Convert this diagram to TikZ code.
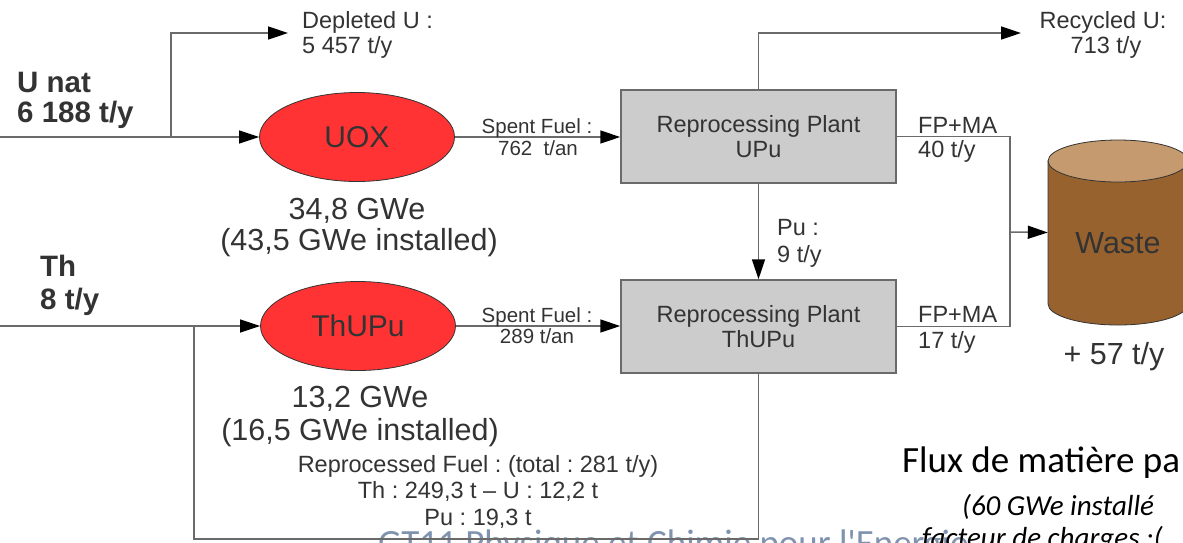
\documentclass[tikz,border=0pt]{standalone}
\usepackage{fontspec}
\setmainfont{Liberation Sans}
\newfontfamily\calibrifont{Carlito}
\usetikzlibrary{arrows.meta,shapes.geometric}
\frenchspacing
\definecolor{ink}{HTML}{333333}
\definecolor{wire}{HTML}{6A6A6A}
\definecolor{reactor}{HTML}{FF3333}
\definecolor{plantgray}{HTML}{CCCCCC}
\definecolor{wastetop}{HTML}{C49A6E}
\definecolor{wastebody}{HTML}{98622F}
\definecolor{footer}{HTML}{8093AE}
\tikzset{
  pipe/.style={draw=wire, line width=1.5pt},
  flow/.style={pipe, -{Triangle[length=20pt,width=13pt,color=black]}},
  reactornode/.style={ellipse, draw=ink, line width=0.8pt, fill=reactor,
    minimum width=195, minimum height=89, inner sep=0, text=ink,
    font=\fontsize{30}{35}\selectfont},
  plantnode/.style={rectangle, draw=wire, line width=1.5pt, fill=plantgray,
    minimum width=275, minimum height=93, inner sep=0, align=center, text=ink,
    font=\fontsize{23.5}{25.5}\selectfont},
  lbl/.style={inner sep=0, text=ink, anchor=base},
  lblw/.style={lbl, anchor=base west},
  big/.style={font=\fontsize{30.5}{35}\selectfont},
  mid/.style={font=\fontsize{23.5}{27}\selectfont},
  small/.style={font=\fontsize{20.5}{24}\selectfont},
  heavy/.style={font=\fontsize{29.5}{34}\selectfont\bfseries},
  slide/.style={inner sep=0, anchor=base west, text=black},
}
\begin{document}
\begin{tikzpicture}[x=1pt,y=-1pt]
\useasboundingbox (0,0) rectangle (1183,542);
\clip (0,0) rectangle (1183,542);

% slide text lying behind the flow sheet
\node[slide, text=footer, font=\calibrifont\fontsize{37}{44}\selectfont] (footerText) at (378,555) {GT11 Physique et Chimie pour l'Energie};
\node[slide, font=\calibrifont\fontsize{37}{44}\selectfont] (titleText) at (902,472) {Flux de matière pa};
\node[slide, font=\calibrifont\itshape\fontsize{29}{34}\selectfont] (subA) at (962,515) {(60 GWe installé};
\node[slide, font=\calibrifont\itshape\fontsize{29}{34}\selectfont] (subB) at (922,547) {facteur de charges :(};

% reactors and reprocessing plants
\node[reactornode] (uox) at (357,137) {UOX};
\node[reactornode] (rthu) at (358,326) {ThUPu};
\node[plantnode] (pupu) at (758.5,136.5) {Reprocessing Plant\\UPu};
\node[plantnode] (pthu) at (758.5,326.5) {Reprocessing Plant\\ThUPu};

% waste container
\fill[wastebody, draw=ink, line width=0.8pt] (1048,161) -- (1048,304)
  arc[start angle=180, end angle=360, x radius=70pt, y radius=21pt]
  -- (1188,161) -- cycle;
\draw[fill=wastetop, draw=ink, line width=0.8pt] (1118,161) ellipse [x radius=70pt, y radius=21pt];
\node[inner sep=0, minimum width=140, minimum height=143] (waste) at (1118,232.5) {};
\node[lbl,big] (wasteText) at (1118,253) {Waste};
\node[lbl,big] (wasteRate) at (1114,364) {+ 57 t/y};

% free ends and bends of the connectors
\coordinate (unIn) at (0,137);
\coordinate (uJ) at (171,137);
\coordinate (deplEnd) at (288,33);
\coordinate (recEnd) at (1021,33);
\coordinate (thIn) at (0,326);
\coordinate (thJ) at (194,326);
\coordinate (loopL) at (194,539);
\coordinate (wJ) at (1010,232);

% flows
\draw[flow] (unIn) -- (uox.west);
\draw[flow] (uJ) |- (deplEnd);
\draw[flow] (uox.east) -- (pupu.west |- uox.east);
\draw[flow] (pupu.north) |- (recEnd);
\draw[flow] (pupu.south) -- (pthu.north);
\draw[pipe] (pupu.east) -| (wJ);
\draw[pipe] (pthu.east) -| (wJ);
\draw[flow] (wJ) -- (waste.west);
\draw[flow] (thIn) -- (rthu.west);
\draw[flow] (rthu.east) -- (pthu.west |- rthu.east);
\draw[pipe] (pthu.south) |- (loopL) -- (thJ);

% inputs
\node[lblw,heavy] (unat1) at (17,92) {U nat};
\node[lblw,heavy] (unat2) at (17,122) {6 188 t/y};
\node[lblw,heavy] (th1) at (40,276) {Th};
\node[lblw,heavy] (th2) at (40,309) {8 t/y};

% outputs
\node[lblw,mid] (depl1) at (302,28) {Depleted U :};
\node[lblw,mid] (depl2) at (302,53) {5 457 t/y};
\node[lbl,mid] (rec1) at (1103,28) {Recycled U:};
\node[lbl,mid] (rec2) at (1106,53) {713 t/y};

% spent fuel streams
\node[lbl,small] (sfA1) at (537,133) {Spent Fuel :};
\node[lbl,small] (sfA2) at (538,155) {762\ \ t/an};
\node[lbl,small] (sfB1) at (537,322) {Spent Fuel :};
\node[lbl,small] (sfB2) at (537,343) {289 t/an};

% reactor powers
\node[lbl,big] (pwA1) at (357,219) {34,8 GWe};
\node[lbl,big] (pwA2) at (359,250) {(43,5 GWe installed)};
\node[lbl,big] (pwB1) at (360,407) {13,2 GWe};
\node[lbl,big] (pwB2) at (360,440) {(16,5 GWe installed)};

% plant outputs
\node[lblw,mid] (fpA1) at (918,133) {FP+MA};
\node[lblw,mid] (fpA2) at (918,157) {40 t/y};
\node[lblw,mid] (fpB1) at (918,322) {FP+MA};
\node[lblw,mid] (fpB2) at (918,348) {17 t/y};
\node[lblw,mid] (pu1) at (777,235) {Pu :};
\node[lblw,mid] (pu2) at (777,262) {9 t/y};

% recycled fuel
\node[lbl,mid] (rf1) at (478,472) {Reprocessed Fuel : (total : 281 t/y)};
\node[lbl,mid] (rf2) at (478,498) {Th : 249,3 t – U : 12,2 t};
\node[lbl,mid] (rf3) at (478,525) {Pu : 19,3 t};
\end{tikzpicture}
\end{document}
